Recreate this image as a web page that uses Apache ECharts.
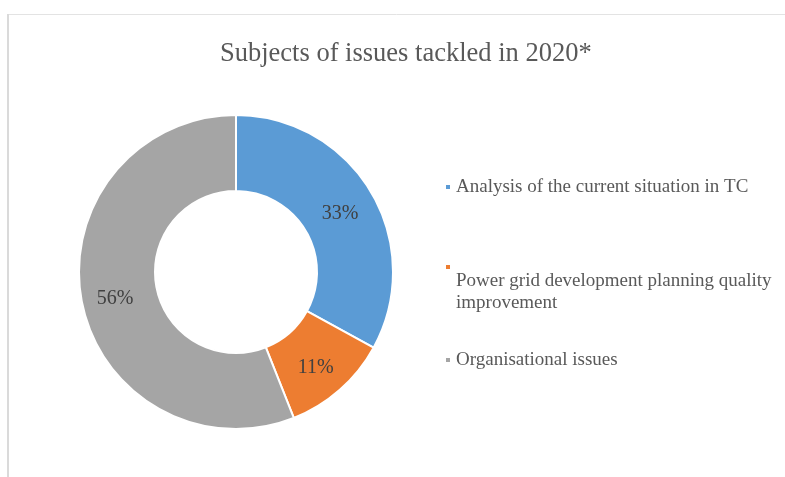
<!DOCTYPE html>
<html>
<head>
<meta charset="utf-8">
<script src="https://cdn.jsdelivr.net/npm/echarts@6/dist/echarts.min.js"></script>
<style>
html,body{margin:0;padding:0;background:#fff;}
#chart{width:785px;height:477px;}
</style>
</head>
<body>
<div id="chart"></div>
<script>
var titleText = 'Subjects of issues tackled in 2020*';
var categories = ['Analysis of the current situation in TC', 'Power grid development planning quality improvement', 'Organisational issues'];
var values = [33, 11, 56];
var colors = ['#5B9BD5', '#ED7D31', '#A5A5A5'];

var chart = echarts.init(document.getElementById('chart'));
var fontFam = '"Liberation Serif", "Times New Roman", serif';

var textBase = { fontFamily: fontFam, fontSize: 19, color: '#595959', lineHeight: 22 };
var legendTops = [176, 220, 349];
var legends = categories.map(function (name, i) {
  var isWrap = i === 1;
  var lg = {
    data: [name],
    left: 444,
    top: legendTops[i],
    padding: 0,
    orient: 'vertical',
    icon: 'rect',
    itemWidth: 6,
    itemHeight: 6,
    selectedMode: false,
    textStyle: Object.assign({}, textBase)
  };
  if (isWrap) {
    var words = name.split(' ');
    var last = words.pop();
    lg.formatter = function () {
      return '{g| }\n{t|' + words.join(' ') + '}\n{t|' + last + '}';
    };
    lg.textStyle.rich = {
      g: { fontFamily: fontFam, fontSize: 10, lineHeight: 50 },
      t: Object.assign({}, textBase)
    };
  }
  return lg;
});

chart.setOption({
  animation: false,
  color: colors,
  title: {
    text: titleText,
    left: 215,
    top: 36,
    textStyle: {
      fontFamily: fontFam,
      fontSize: 26.5,
      fontWeight: 'normal',
      color: '#595959'
    }
  },
  legend: legends,
  graphic: [{
    type: 'line',
    shape: { x1: 7, y1: 14.5, x2: 800, y2: 14.5 },
    style: { stroke: '#e3e3e3', lineWidth: 1 },
    silent: true
  }, {
    type: 'line',
    shape: { x1: 8, y1: 14, x2: 8, y2: 480 },
    style: { stroke: '#dadada', lineWidth: 2 },
    silent: true
  }],
  series: [{
    type: 'pie',
    center: [236, 272],
    radius: [81, 157],
    startAngle: 90,
    clockwise: true,
    avoidLabelOverlap: false,
    itemStyle: { borderColor: '#ffffff', borderWidth: 2 },
    label: {
      show: true,
      position: 'inside',
      formatter: '{d}%',
      fontFamily: fontFam,
      fontSize: 20,
      color: '#404040',
      offset: [-1, 4]
    },
    labelLine: { show: false },
    data: categories.map(function (c, i) { return { name: c, value: values[i] }; })
  }]
});
</script>
</body>
</html>
